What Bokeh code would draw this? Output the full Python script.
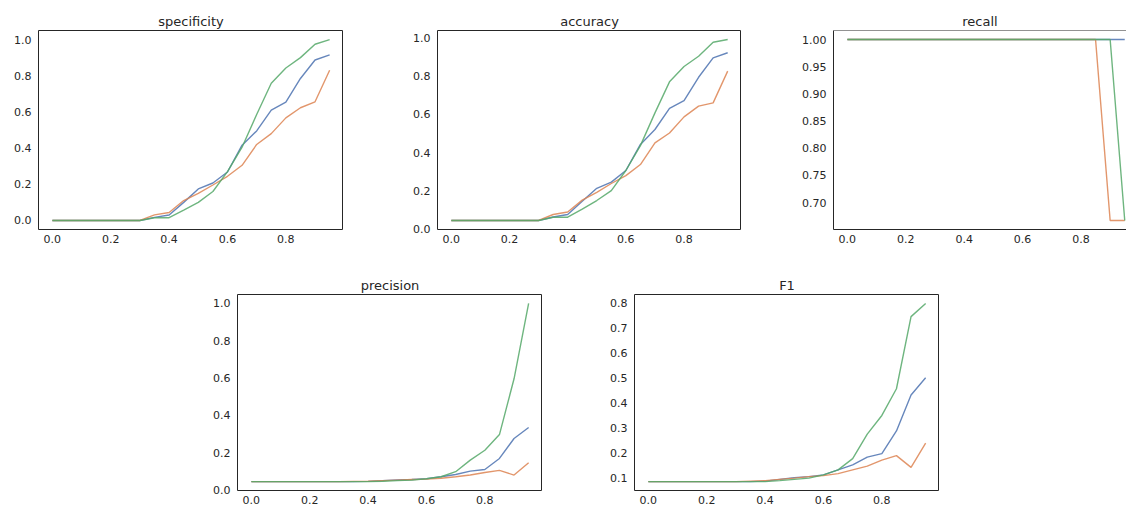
from bokeh.plotting import figure
from bokeh.layouts import column, row
from bokeh.models import FixedTicker, Range1d, PrintfTickFormatter, Span
from bokeh.embed import file_html
from bokeh.resources import INLINE

thresholds = [0.0, 0.05, 0.1, 0.15, 0.2, 0.25, 0.3, 0.35, 0.4, 0.45,
              0.5, 0.55, 0.6, 0.65, 0.7, 0.75, 0.8, 0.85, 0.9, 0.95]

series_colors = ["#4C72B0", "#DD8452", "#55A868"]

specificity_blue = [0, 0, 0, 0, 0, 0, 0, 0.017, 0.03, 0.10, 0.174, 0.207, 0.268, 0.416, 0.495, 0.61, 0.654, 0.785, 0.887, 0.915]
specificity_orange = [0, 0, 0, 0, 0, 0, 0, 0.031, 0.044, 0.11, 0.15, 0.196, 0.244, 0.305, 0.42, 0.48, 0.567, 0.623, 0.656, 0.83]
specificity_green = [0, 0, 0, 0, 0, 0, 0, 0.015, 0.015, 0.057, 0.10, 0.16, 0.27, 0.405, 0.586, 0.758, 0.843, 0.90, 0.974, 1.0]

accuracy_blue = [0.046, 0.046, 0.046, 0.046, 0.046, 0.046, 0.046, 0.064, 0.077, 0.146, 0.214, 0.246, 0.307, 0.443, 0.521, 0.631, 0.672, 0.794, 0.895, 0.922]
accuracy_orange = [0.046, 0.046, 0.046, 0.046, 0.046, 0.046, 0.046, 0.077, 0.09, 0.152, 0.193, 0.239, 0.28, 0.338, 0.451, 0.503, 0.587, 0.643, 0.66, 0.826]
accuracy_green = [0.046, 0.046, 0.046, 0.046, 0.046, 0.046, 0.046, 0.063, 0.063, 0.105, 0.15, 0.202, 0.307, 0.437, 0.608, 0.77, 0.85, 0.904, 0.977, 0.991]

recall_blue = [1.0] * 20
recall_orange = [1.0] * 18 + [0.667, 0.667]
recall_green = [1.0] * 19 + [0.667]

precision_blue = [0.045, 0.045, 0.045, 0.045, 0.045, 0.045, 0.045, 0.045, 0.046, 0.05, 0.054, 0.056, 0.06, 0.071, 0.083, 0.101, 0.11, 0.169, 0.276, 0.335]
precision_orange = [0.045, 0.045, 0.045, 0.045, 0.045, 0.045, 0.045, 0.046, 0.047, 0.05, 0.053, 0.056, 0.058, 0.063, 0.071, 0.08, 0.094, 0.105, 0.08, 0.146]
precision_green = [0.045, 0.045, 0.045, 0.045, 0.045, 0.045, 0.045, 0.045, 0.045, 0.047, 0.05, 0.053, 0.06, 0.071, 0.098, 0.16, 0.213, 0.297, 0.596, 1.0]

f1_blue = [0.086, 0.086, 0.086, 0.086, 0.086, 0.086, 0.086, 0.086, 0.088, 0.095, 0.102, 0.106, 0.113, 0.133, 0.153, 0.184, 0.198, 0.289, 0.433, 0.502]
f1_orange = [0.086, 0.086, 0.086, 0.086, 0.086, 0.086, 0.086, 0.088, 0.09, 0.095, 0.10, 0.106, 0.11, 0.118, 0.133, 0.148, 0.172, 0.19, 0.143, 0.24]
f1_green = [0.086, 0.086, 0.086, 0.086, 0.086, 0.086, 0.086, 0.086, 0.086, 0.09, 0.095, 0.10, 0.113, 0.133, 0.178, 0.276, 0.351, 0.458, 0.747, 0.8]

x_ticks = [0.0, 0.2, 0.4, 0.6, 0.8]
y_ticks_unit = [0.0, 0.2, 0.4, 0.6, 0.8, 1.0]
y_ticks_recall = [0.70, 0.75, 0.80, 0.85, 0.90, 0.95, 1.00]
y_ticks_f1 = [0.1, 0.2, 0.3, 0.4, 0.5, 0.6, 0.7, 0.8]

TXT = "#262626"
FONT = "DejaVu Sans"


def make_fig(title, series, yticks, yfmt, left, right, fw, fh, top, bottom,
             x_end=None, open_right=False):
    xs_lo, xs_hi = min(thresholds), max(thresholds)
    xpad = 0.05 * (xs_hi - xs_lo)
    allv = [v for s in series for v in s]
    lo, hi = min(allv), max(allv)
    ypad = 0.05 * (hi - lo)
    xr = Range1d(xs_lo - xpad, x_end if x_end is not None else xs_hi + xpad)
    yr = Range1d(lo - ypad, hi + ypad)
    p = figure(frame_width=fw, frame_height=fh, x_range=xr, y_range=yr,
               output_backend="svg", toolbar_location=None,
               min_border_left=left, min_border_right=right,
               min_border_top=top, min_border_bottom=bottom,
               background_fill_color="white", border_fill_color="white")
    p.title.text = title
    p.title.align = "center"
    p.title.text_font = FONT
    p.title.text_font_size = "13px"
    p.title.text_font_style = "normal"
    p.title.text_color = TXT
    p.title.standoff = 4
    p.xgrid.visible = False
    p.ygrid.visible = False
    for ax in (p.xaxis[0], p.yaxis[0]):
        ax.major_tick_out = 0
        ax.major_tick_in = 0
        ax.minor_tick_out = 0
        ax.minor_tick_in = 0
        ax.major_label_text_font = FONT
        ax.major_label_text_font_size = "11px"
        ax.major_label_text_color = TXT
        ax.axis_line_color = None
    p.xaxis[0].ticker = FixedTicker(ticks=x_ticks)
    p.xaxis[0].formatter = PrintfTickFormatter(format="%.1f")
    p.xaxis[0].major_label_standoff = 5
    p.yaxis[0].ticker = FixedTicker(ticks=yticks)
    p.yaxis[0].formatter = PrintfTickFormatter(format=yfmt)
    p.yaxis[0].major_label_standoff = 7
    if open_right:
        p.outline_line_color = None
        p.xaxis[0].axis_line_color = TXT
        p.yaxis[0].axis_line_color = TXT
        p.add_layout(Span(location=yr.end, dimension="width",
                          line_color=TXT, line_width=1))
    else:
        p.outline_line_color = TXT
        p.outline_line_width = 1
        p.outline_line_alpha = 1
    for s, c in zip(series, series_colors):
        p.line(thresholds, s, line_color=c, line_width=1.4, line_alpha=0.85)
    return p


p1 = make_fig("specificity", [specificity_blue, specificity_orange, specificity_green],
              y_ticks_unit, "%.1f", 38, 0, 305, 199, 30, 28)
p2 = make_fig("accuracy", [accuracy_blue, accuracy_orange, accuracy_green],
              y_ticks_unit, "%.1f", 94, 0, 304, 199, 30, 28)
p3 = make_fig("recall", [recall_blue, recall_orange, recall_green],
              y_ticks_recall, "%.2f", 92, 0, 293, 199, 30, 28,
              x_end=0.956, open_right=True)
p4 = make_fig("precision", [precision_blue, precision_orange, precision_green],
              y_ticks_unit, "%.1f", 237, 0, 305, 196, 37, 18)
p5 = make_fig("F1", [f1_blue, f1_orange, f1_green],
              y_ticks_f1, "%.1f", 92, 0, 305, 196, 37, 18)

layout = column(row(p1, p2, p3, spacing=0), row(p4, p5, spacing=0), spacing=0)

open("out.html", "w").write(file_html(layout, INLINE))
